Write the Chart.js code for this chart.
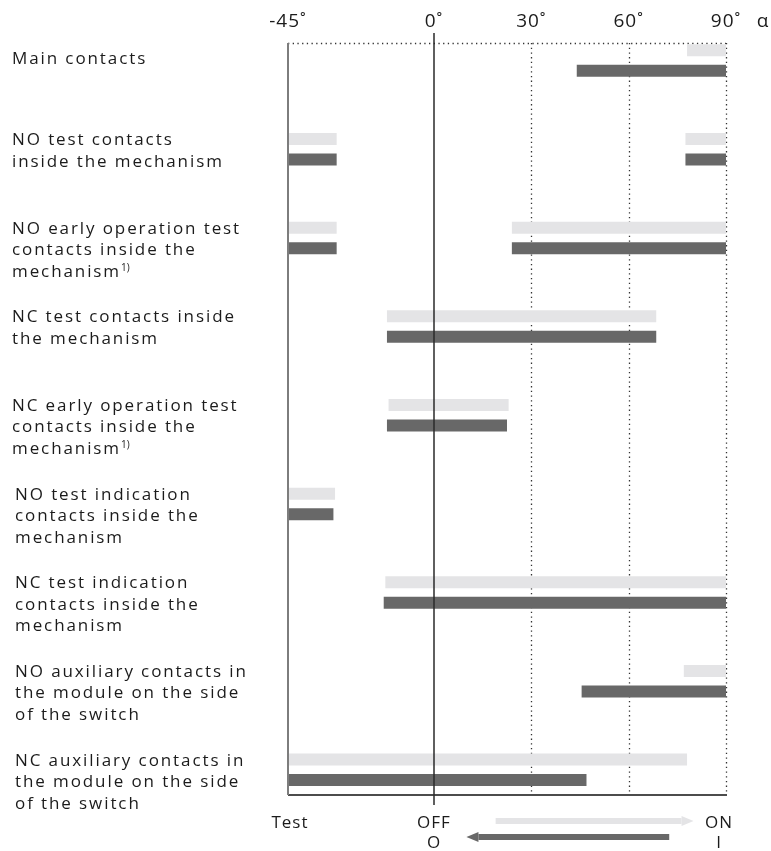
<!DOCTYPE html>
<html><head><meta charset="utf-8">
<script src="https://cdn.jsdelivr.net/npm/chart.js@4/dist/chart.umd.min.js"></script>
<style>html,body{margin:0;padding:0;background:#fff}#wrap{width:771px;height:851px}</style>
</head><body><div id="wrap"><canvas id="c" width="771" height="851"></canvas></div>
<script>
// ---- data ----
const categories = [
  ["Main contacts"],
  ["NO test contacts", "inside the mechanism"],
  ["NO early operation test", "contacts inside the", "mechanism"],
  ["NC test contacts inside", "the mechanism"],
  ["NC early operation test", "contacts inside the", "mechanism"],
  ["NO test indication", "contacts inside the", "mechanism"],
  ["NC test indication", "contacts inside the", "mechanism"],
  ["NO auxiliary contacts in", "the module on the side", "of the switch"],
  ["NC auxiliary contacts in", "the module on the side", "of the switch"]
];
const footnotes = [null, null, "1)", null, "1)", null, null, null, null];
// light bars: switching OFF -> ON (closing movement), degrees
const closingSegments = [
  [[78, 90]],
  [[-45, -30], [77.5, 90]],
  [[-45, -30], [24, 90]],
  [[-14.5, 68.5]],
  [[-14, 23]],
  [[-45, -30.5]],
  [[-15, 90]],
  [[77, 90]],
  [[-45, 78]]
];
// dark bars: switching ON -> OFF (opening movement), degrees
const openingSegments = [
  [[44, 90]],
  [[-45, -30], [77.5, 90]],
  [[-45, -30], [24, 90]],
  [[-14.5, 68.5]],
  [[-14.5, 22.5]],
  [[-45, -31]],
  [[-15.5, 90]],
  [[45.5, 90]],
  [[-45, 47]]
];
const angleTicks = [-45, 0, 30, 60, 90];
const solidTicks = [-45, 0];
const dottedTicks = [30, 60, 90];
const positionLabels = [
  { value: -45, top: "Test", bottom: "" },
  { value: 0, top: "OFF", bottom: "O" },
  { value: 90, top: "ON", bottom: "I" }
];

// ---- styles ----
const FONT = '"Open Sans", "DejaVu Sans", sans-serif';
const TEXT = '#1b1b1b';
const LIGHT = '#e4e4e6';
const DARK = '#686868';
const LS = '1.9px';

const toPoints = segs => segs.flatMap((row, i) => row.map(s => ({ x: s, y: i })));
const setLS = (ctx, v) => { try { ctx.letterSpacing = v; } catch (e) {} };

const drawPlugin = {
  id: 'drawPlugin',
  beforeDraw(chart) { setLS(chart.ctx, '1px'); },
  beforeDatasetsDraw(chart) {
    const { ctx, chartArea: { top, bottom }, scales: { x } } = chart;
    ctx.save();
    ctx.strokeStyle = '#333';
    ctx.lineWidth = 1.3;
    ctx.setLineDash([1.3, 3.4]);
    ctx.beginPath();
    ctx.moveTo(x.getPixelForValue(-45), top + 0.5);
    ctx.lineTo(x.getPixelForValue(90), top + 0.5);
    ctx.stroke();
    dottedTicks.forEach(v => {
      const px = Math.round(x.getPixelForValue(v)) + 0.5;
      ctx.beginPath(); ctx.moveTo(px, top); ctx.lineTo(px, bottom); ctx.stroke();
    });
    ctx.restore();
  },
  afterDatasetsDraw(chart) {
    const { ctx, chartArea: { top, bottom }, scales: { x } } = chart;
    ctx.save();
    // bottom axis line
    ctx.strokeStyle = '#111'; ctx.lineWidth = 1.5;
    ctx.beginPath();
    ctx.moveTo(x.getPixelForValue(-45), bottom);
    ctx.lineTo(x.getPixelForValue(90) + 1, bottom);
    ctx.stroke();
    // -45 line
    ctx.strokeStyle = '#7d7d7d'; ctx.lineWidth = 2;
    let px = x.getPixelForValue(solidTicks[0]);
    ctx.beginPath(); ctx.moveTo(px, top); ctx.lineTo(px, bottom); ctx.stroke();
    // 0 line
    ctx.strokeStyle = '#2a2a2a'; ctx.lineWidth = 1.5;
    px = x.getPixelForValue(solidTicks[1]);
    ctx.beginPath(); ctx.moveTo(px, top - 10); ctx.lineTo(px, bottom + 10); ctx.stroke();

    // category labels
    const meta0 = chart.getDatasetMeta(0);
    const meta1 = chart.getDatasetMeta(1);
    ctx.fillStyle = TEXT;
    ctx.textAlign = 'left';
    ctx.textBaseline = 'alphabetic';
    const lineH = 21.5;
    categories.forEach((lines, i) => {
      const idx0 = meta0._parsed.findIndex(p => p.y === i);
      const idx1 = meta1._parsed.findIndex(p => p.y === i);
      const yLight = meta0.data[idx0].y;
      const yDark = meta1.data[idx1].y;
      const first = lines.length === 1 ? (yLight + yDark) / 2 - 3 : yLight;
      const lx = i >= 5 ? 15 : 12;
      lines.forEach((t, k) => {
        const by = first + 6 + k * lineH;
        ctx.font = '17px ' + FONT;
        setLS(ctx, LS);
        ctx.fillText(t, lx, by);
        if (k === lines.length - 1 && footnotes[i]) {
          const w = ctx.measureText(t).width;
          ctx.font = '10px ' + FONT;
          setLS(ctx, '0px');
          ctx.fillText(footnotes[i], lx + w, by - 6);
        }
      });
    });

    // bottom position labels
    ctx.textAlign = 'center';
    ctx.font = '17px ' + FONT;
    setLS(ctx, '1px');
    positionLabels.forEach(p => {
      let cx = x.getPixelForValue(p.value);
      if (p.value === 90) cx -= 7;
      if (p.value === -45) cx += 2;
      ctx.fillText(p.top, cx, bottom + 33);
      if (p.bottom) ctx.fillText(p.bottom, cx, bottom + 53);
    });

    // alpha
    ctx.font = '19px ' + FONT;
    ctx.fillText('α', x.getPixelForValue(90) + 37, 27);

    // arrows
    const arrow = (from, to, yy, color) => {
      const x0 = x.getPixelForValue(from), x1 = x.getPixelForValue(to);
      const dir = Math.sign(x1 - x0);
      const head = 12;
      ctx.fillStyle = color;
      ctx.fillRect(Math.min(x0, x1 - dir * head), yy - 3, Math.abs(x1 - dir * head - x0), 6);
      ctx.beginPath();
      ctx.moveTo(x1, yy);
      ctx.lineTo(x1 - dir * head, yy - 5);
      ctx.lineTo(x1 - dir * head, yy + 5);
      ctx.closePath();
      ctx.fill();
    };
    arrow(19, 80, bottom + 26, LIGHT);
    arrow(72.5, 10, bottom + 42, DARK);
    ctx.restore();
  }
};

new Chart(document.getElementById('c'), {
  type: 'bar',
  data: {
    datasets: [
      { label: 'OFF → ON', data: toPoints(closingSegments), backgroundColor: LIGHT,
        categoryPercentage: 0.4624, barPercentage: 0.585 },
      { label: 'ON → OFF', data: toPoints(openingSegments), backgroundColor: DARK,
        categoryPercentage: 0.4624, barPercentage: 0.585 }
    ]
  },
  options: {
    indexAxis: 'y',
    responsive: false,
    animation: false,
    layout: { padding: { left: 288, right: 45, top: 0, bottom: 56 } },
    scales: {
      x: {
        type: 'linear', position: 'top', min: -45, max: 90,
        afterBuildTicks: s => { s.ticks = angleTicks.map(v => ({ value: v })); },
        afterFit: s => { s.height = 43; },
        ticks: { callback: v => v + '˚', color: TEXT, font: { family: FONT, size: 19 }, padding: 10, maxRotation: 0, autoSkip: false },
        grid: { display: false, drawTicks: false },
        border: { display: false }
      },
      y: {
        type: 'linear', reverse: true, offset: false, min: -0.1985, max: 8.2835, display: false,
        afterBuildTicks: s => { s.ticks = categories.map((_, i) => ({ value: i })); }
      }
    },
    plugins: { legend: { display: false }, tooltip: { enabled: false } }
  },
  plugins: [drawPlugin]
});
</script>
</body></html>
